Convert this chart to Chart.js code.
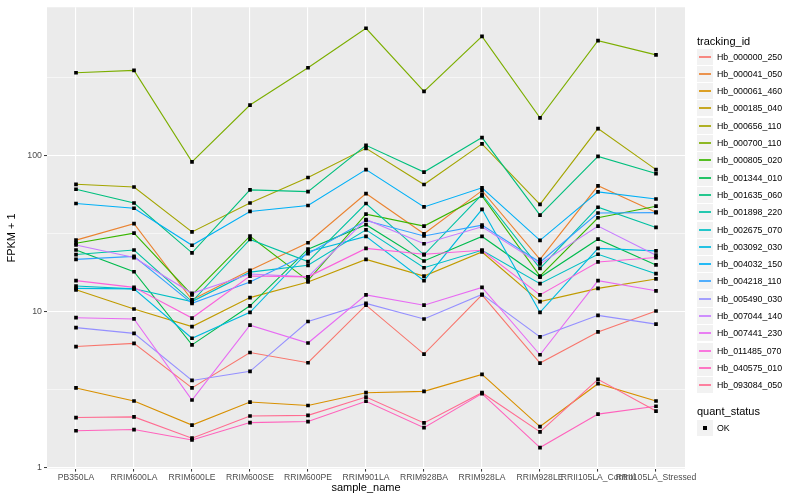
<!DOCTYPE html>
<html>
<head>
<meta charset="utf-8">
<script src="https://cdn.jsdelivr.net/npm/chart.js@4/dist/chart.umd.min.js"></script>
<style>
body { margin: 0; background: #fff; font-family: "Liberation Sans", Arial, sans-serif; }
#wrap { position: relative; width: 800px; height: 500px; }
#legend { position: absolute; left: 0; top: 0; }
.lt { position: absolute; left: 697px; font-size: 11px; line-height: 13px; color: #000; white-space: nowrap; }
.row { position: absolute; left: 697px; width: 100px; height: 17px; }
.key { position: absolute; left: 0; top: 0; width: 16px; height: 16px; background: #f2f2f2; }
.key i { position: absolute; left: 2px; width: 12px; top: 7px; height: 2px; opacity: 0.85; }
.key b { position: absolute; left: 6px; top: 6px; width: 4px; height: 4px; background: #000; }
.row span { position: absolute; left: 20px; top: 0; font-size: 8.8px; line-height: 16px; color: #000; white-space: nowrap; }
</style>
</head>
<body>
<div id="wrap">
  <canvas id="chart" width="800" height="500"></canvas>
  <div id="legend"></div>
</div>
<script>
// samples on the x axis
const samples = ["PB350LA", "RRIM600LA", "RRIM600LE", "RRIM600SE", "RRIM600PE", "RRIM901LA",
  "RRIM928BA", "RRIM928LA", "RRIM928LE", "RRII105LA_Control", "RRII105LA_Stressed"];

const trackingIds = ["Hb_000000_250", "Hb_000041_050", "Hb_000061_460", "Hb_000185_040", "Hb_000656_110",
  "Hb_000700_110", "Hb_000805_020", "Hb_001344_010", "Hb_001635_060", "Hb_001898_220",
  "Hb_002675_070", "Hb_003092_030", "Hb_004032_150", "Hb_004218_110", "Hb_005490_030",
  "Hb_007044_140", "Hb_007441_230", "Hb_011485_070", "Hb_040575_010", "Hb_093084_050"];

const colors = ["#F8766D", "#EA8331", "#D89000", "#C09B00", "#A3A500", "#7CAE00", "#39B600", "#00BB4E",
  "#00BF7D", "#00C1A3", "#00BFC4", "#00BAE0", "#00B0F6", "#35A2FF", "#9590FF", "#C77CFF",
  "#E76BF3", "#FA62DB", "#FF62BC", "#FF6C91"];

// FPKM + 1 per gene, one value per sample
const hb_000000_250 = [5.98, 6.27, 3.25, 5.48, 4.71, 11.0, 5.35, 12.8, 4.69, 7.42, 10.1];
const hb_000041_050 = [28.7, 36.6, 11.9, 18.4, 27.6, 57.0, 31.5, 59.5, 21.6, 63.9, 43.3];
const hb_000061_460 = [3.25, 2.68, 1.88, 2.64, 2.51, 3.03, 3.09, 3.97, 1.84, 3.46, 2.68];
const hb_000185_040 = [13.8, 10.4, 8.03, 12.3, 15.5, 21.6, 16.9, 24.1, 11.6, 14.1, 16.2];
const hb_000656_110 = [65.3, 62.8, 32.4, 49.6, 72.2, 111, 65.1, 118.5, 48.6, 148.5, 81.1];
const hb_000700_110 = [338, 350, 91, 210, 364, 651, 257, 578, 174, 542, 440];
const hb_000805_020 = [27.4, 31.8, 12.8, 30.4, 15.8, 42.1, 35.3, 55.0, 16.9, 39.9, 47.3];
const hb_001344_010 = [24.8, 18.0, 6.13, 10.9, 25.1, 36.0, 21.1, 30.3, 16.6, 29.1, 19.9];
const hb_001635_060 = [60.7, 49.6, 23.8, 60.2, 58.6, 116, 78.2, 130, 41.5, 98.5, 76.5];
const hb_001898_220 = [23.2, 24.8, 11.6, 29.0, 20.9, 49.2, 23.1, 56.2, 18.9, 46.6, 34.6];
const hb_002675_070 = [14.6, 14.0, 11.6, 17.9, 19.8, 33.4, 19.1, 24.7, 15.1, 23.3, 17.5];
const hb_003092_030 = [14.1, 14.0, 6.76, 9.9, 24.2, 30.3, 15.8, 45.2, 9.9, 25.4, 24.5];
const hb_004032_150 = [49.2, 45.9, 26.6, 43.8, 47.8, 81.1, 46.8, 62.0, 28.6, 58.4, 52.6];
const hb_004218_110 = [21.6, 22.6, 11.3, 15.5, 23.5, 38.3, 30.5, 35.8, 20.7, 42.8, 43.0];
const hb_005490_030 = [7.9, 7.26, 3.63, 4.15, 8.65, 11.3, 8.97, 12.9, 6.9, 9.47, 8.32];
const hb_007044_140 = [26.7, 22.2, 13.1, 17.4, 16.7, 38.9, 27.2, 34.9, 20.2, 35.3, 23.0];
const hb_007441_230 = [9.15, 8.98, 2.72, 8.2, 6.3, 12.8, 11.0, 14.3, 5.3, 15.8, 13.6];
const hb_011485_070 = [15.8, 14.3, 9.1, 16.9, 16.7, 25.4, 23.3, 24.7, 12.8, 20.8, 22.2];
const hb_040575_010 = [1.73, 1.76, 1.51, 1.95, 1.98, 2.67, 1.81, 2.99, 1.35, 2.21, 2.48];
const hb_093084_050 = [2.1, 2.12, 1.55, 2.15, 2.17, 2.84, 1.94, 3.03, 1.70, 3.69, 2.31];

const series = [hb_000000_250, hb_000041_050, hb_000061_460, hb_000185_040, hb_000656_110,
  hb_000700_110, hb_000805_020, hb_001344_010, hb_001635_060, hb_001898_220,
  hb_002675_070, hb_003092_030, hb_004032_150, hb_004218_110, hb_005490_030,
  hb_007044_140, hb_007441_230, hb_011485_070, hb_040575_010, hb_093084_050];

const yMajor = [1, 10, 100];
const yMinor = [3.162, 31.62, 316.2];

/* grey panel like ggplot */
const panelBg = {
  id: 'panelBg',
  beforeDraw(chart) {
    const {ctx, chartArea: a} = chart;
    ctx.save();
    ctx.fillStyle = '#EBEBEB';
    ctx.fillRect(a.left, a.top, a.right - a.left, a.bottom - a.top);
    ctx.restore();
  }
};

const n = trackingIds.length;
const lineSets = trackingIds.map((id, i) => ({
  label: id,
  data: series[i],
  borderColor: colors[i],
  borderWidth: 1.1,
  pointRadius: 0,
  tension: 0,
  order: n - i + 1
}));
const pointSets = trackingIds.map((id, i) => ({
  label: id + ' OK',
  data: series[i],
  showLine: false,
  pointStyle: 'rect',
  pointRadius: 2.6,
  pointBorderWidth: 0,
  pointBackgroundColor: '#000',
  order: 0
}));

Chart.defaults.font.family = '"Liberation Sans", Arial, sans-serif';

new Chart(document.getElementById('chart'), {
  type: 'line',
  data: { labels: samples, datasets: lineSets.concat(pointSets) },
  options: {
    responsive: false,
    animation: false,
    layout: { padding: { left: 0, right: 115, top: 5, bottom: 0 } },
    plugins: { legend: { display: false }, tooltip: { enabled: false } },
    scales: {
      x: {
        type: 'category',
        offset: true,
        afterFit: s => { s.height = 31.4; },
        ticks: { autoSkip: false, maxRotation: 0, minRotation: 0, padding: 1, color: '#4D4D4D', font: { size: 8.6 } },
        grid: { offset: false, color: '#FFFFFF', lineWidth: 1.1, tickLength: 3, tickColor: '#333333', tickWidth: 1 },
        border: { display: false },
        title: { display: true, text: 'sample_name', color: '#000', font: { size: 11 }, padding: { top: 0, bottom: 5 } }
      },
      y: {
        type: 'logarithmic',
        min: 0.99,
        max: 887,
        bounds: 'data',
        afterBuildTicks: s => {
          s.ticks = yMajor.concat(yMinor).sort((a, b) => a - b).map(v => ({ value: v }));
        },
        afterFit: s => { s.width = 47; },
        ticks: {
          autoSkip: false, padding: 2, color: '#4D4D4D', font: { size: 8.8 },
          callback: v => yMajor.includes(v) ? String(v) : ''
        },
        grid: {
          color: '#FFFFFF',
          lineWidth: c => (c.tick && yMajor.includes(c.tick.value)) ? 1.1 : 0.55,
          tickLength: 3,
          tickWidth: 1,
          tickColor: c => (c.tick && yMajor.includes(c.tick.value)) ? '#333333' : 'rgba(0,0,0,0)'
        },
        border: { display: false },
        title: { display: true, text: 'FPKM + 1', color: '#000', font: { size: 11 }, padding: { top: 5, bottom: 0 } }
      }
    }
  },
  plugins: [panelBg]
});

/* legend, ggplot style */
let html = '<div class="lt" style="top:34.5px">tracking_id</div>';
trackingIds.forEach((id, i) => {
  const top = Math.round(48.5 + 17.3 * i);
  html += '<div class="row" style="top:' + top + 'px"><div class="key"><i style="background:' + colors[i] + '"></i></div><span>' + id + '</span></div>';
});
html += '<div class="lt" style="top:405px">quant_status</div>';
html += '<div class="row" style="top:420px"><div class="key"><b></b></div><span>OK</span></div>';
document.getElementById('legend').innerHTML = html;
</script>
</body>
</html>
